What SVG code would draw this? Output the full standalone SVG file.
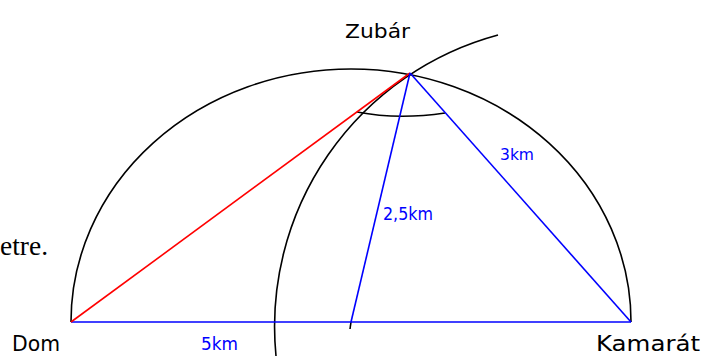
<svg xmlns="http://www.w3.org/2000/svg" width="716" height="356" viewBox="0 0 716 356">
<style>
.blk{fill:none;stroke:#000;stroke-width:1.6}
.blu{fill:none;stroke:#0000ff;stroke-width:1.6}
.red{fill:none;stroke:#ff0000;stroke-width:1.6}
.lbl{font-family:"DejaVu Sans",sans-serif;fill:#000}
.bl{font-family:"DejaVu Sans",sans-serif;fill:#0000ff}
</style>
<rect width="716" height="356" fill="#fff"/>
<text x="0" y="255" font-family="Liberation Serif, serif" font-size="27" fill="#000" textLength="48" lengthAdjust="spacingAndGlyphs">etre.</text>
<g id="connectors">
<path class="blk" d="M71,322 A280,253 0 0 1 631,322"/>
<path class="blk" d="M276,356 A302,302 0 0 1 498,35"/>
<path class="blk" d="M357,112 Q398,120 445,113"/>
<path class="blk" d="M351,322 L350,329"/>
<path class="blu" d="M71,322 H631"/>
<path class="red" d="M71,322 L410,73"/>
<path class="blu" d="M410,73 L631,322"/>
<path class="blu" d="M410,73 L351,322"/>
</g>
<g id="dom"><text class="lbl" x="12" y="351" font-size="22" textLength="48" lengthAdjust="spacingAndGlyphs">Dom</text></g>
<g id="kamarat"><text class="lbl" x="596" y="351" font-size="22" textLength="104" lengthAdjust="spacingAndGlyphs">Kamarát</text></g>
<g id="zubar"><text class="lbl" x="345" y="38" font-size="20" textLength="65" lengthAdjust="spacingAndGlyphs">Zubár</text></g>
<g id="labels">
<text class="bl" x="201" y="350" font-size="17" textLength="37" lengthAdjust="spacingAndGlyphs">5km</text>
<text class="bl" x="383" y="220" font-size="17" textLength="50" lengthAdjust="spacingAndGlyphs">2,5km</text>
<text class="bl" x="500" y="160" font-size="16" textLength="34" lengthAdjust="spacingAndGlyphs">3km</text>
</g>
</svg>
